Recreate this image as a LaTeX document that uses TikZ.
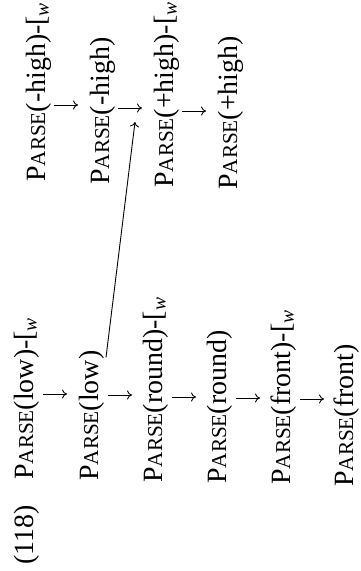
\documentclass[tikz,border=0pt]{standalone}
\usepackage{fontspec}
\setmainfont{Liberation Serif}
\newfontfamily\prsSmall[Scale=0.76]{Liberation Serif}
\usetikzlibrary{arrows.meta,calc}
\newcommand{\Parse}{P{\prsSmall ARSE}}
\newcommand{\wbd}{-[\textsubscript{\itshape w}}
\tikzset{
  prsLine/.style={
    anchor=base west,
    inner sep=0pt,
    font=\fontsize{28}{32}\selectfont
  },
  prsArrow/.style={-{To[length=5bp,width=9bp]}, line width=0.9bp}
}

\begin{document}
\begin{tikzpicture}[x=1bp,y=1bp]
  \useasboundingbox (0,0) rectangle (360,571);
  \begin{scope}[rotate=90, transform shape]
    % left derivation
    \node[prsLine] (num) at (6,-33) {(118)};
    \node[prsLine] (low1) at (91,-33) {\Parse(low)\wbd};
    \node[prsLine] (low2) at (90,-98) {\Parse(low)};
    \node[prsLine] (rnd1) at (88,-162) {\Parse(round)\wbd};
    \node[prsLine] (rnd2) at (87,-226) {\Parse(round)};
    \node[prsLine] (frt1) at (86,-290) {\Parse(front)\wbd};
    \node[prsLine] (frt2) at (84,-353) {\Parse(front)};

    % right derivation
    \node[prsLine] (hi1) at (389,-45) {\Parse(-high)\wbd};
    \node[prsLine] (hi2) at (386,-109) {\Parse(-high)};
    \node[prsLine] (hi3) at (383,-173) {\Parse(+high)\wbd};
    \node[prsLine] (hi4) at (381,-237) {\Parse(+high)};

    \foreach \a in {low1,low2,rnd1,rnd2,frt1}
      \draw[prsArrow] ($(\a.base west)+(86,-10)$) -- ($(\a.base west)+(86,-34)$);
    \foreach \a in {hi1,hi2,hi3}
      \draw[prsArrow] ($(\a.base west)+(77,-9)$) -- ($(\a.base west)+(77,-33)$);

    \coordinate (hit) at ($(hi2.base west)+(63,-26)$);
    \draw[prsArrow] ($(low2.base east)+(-7,-8)$) -- (hit);
  \end{scope}
\end{tikzpicture}
\end{document}
